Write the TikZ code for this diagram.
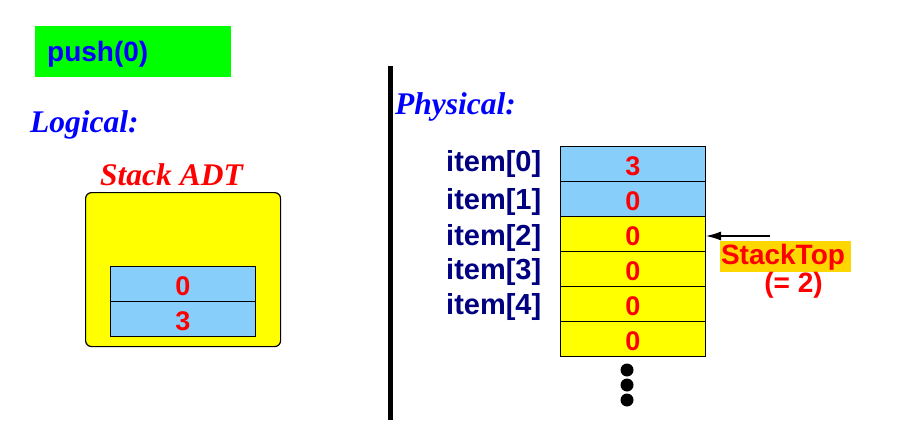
\documentclass[tikz,border=0pt]{standalone}
\usepackage{fontspec}
\setmainfont{Liberation Serif}
\setsansfont{Liberation Sans}
\usetikzlibrary{arrows.meta}
\definecolor{cgreen}{RGB}{0,255,0}
\definecolor{cyellow}{RGB}{255,255,0}
\definecolor{cblue}{RGB}{135,206,250}
\definecolor{cgold}{RGB}{255,215,0}
\definecolor{cred}{RGB}{255,0,0}
\definecolor{ctext}{RGB}{0,0,255}
\definecolor{cnavy}{RGB}{0,0,128}
\tikzset{
  sanslbl/.style={font=\sffamily\bfseries\fontsize{28}{30}\selectfont, inner sep=0pt},
  seriflbl/.style={font=\rmfamily\bfseries\itshape\fontsize{31.5}{33}\selectfont, inner sep=0pt},
  cell/.style={draw=black, line width=1pt, minimum width=145pt, minimum height=35pt, inner sep=0pt,
    text=cred, text height=24pt, font=\sffamily\bfseries\fontsize{27}{29}\selectfont},
  bluecell/.style={cell, fill=cblue},
  yelcell/.style={cell, fill=cyellow},
  itemlbl/.style={sanslbl, font=\sffamily\bfseries\fontsize{29}{31}\selectfont, text=cnavy, anchor=west},
}
\begin{document}
\begin{tikzpicture}[x=1pt,y=-1pt]
\useasboundingbox (0,0) rectangle (903,436);
% command box
\node[fill=cgreen, minimum width=196pt, minimum height=51pt, inner sep=0pt, anchor=north west] (cmdbox) at (35,26) {};
\node[sanslbl, text=ctext, anchor=west] (cmd) at (47,54) {push(0)};
% logical side
\node[seriflbl, text=ctext, anchor=base west] (logical) at (30,132) {Logical:};
\node[seriflbl, text=cred, anchor=base west] (adtlbl) at (100,185) {Stack ADT};
\node[draw=black, line width=1.2pt, fill=cyellow, rounded corners=6pt, minimum width=195pt, minimum height=154pt, inner sep=0pt, anchor=north west] (adt) at (85,192) {};
\node[bluecell, anchor=north west] (s0) at (110,266) {0};
\node[bluecell, anchor=north west] (s1) at (110,301) {3};
% divider
\coordinate (dtop) at (390.5,66);
\coordinate (dbot) at (390.5,420);
\draw[line width=4.5pt] (dtop) -- (dbot);
% physical side
\node[seriflbl, text=ctext, anchor=base west] (physical) at (395,114) {Physical:};
\node[bluecell, anchor=north west] (c0) at (560,146) {3};
\node[bluecell, anchor=north west] (c1) at (560,181) {0};
\node[yelcell, anchor=north west] (c2) at (560,216) {0};
\node[yelcell, anchor=north west] (c3) at (560,251) {0};
\node[yelcell, anchor=north west] (c4) at (560,286) {0};
\node[yelcell, anchor=north west] (c5) at (560,321) {0};
\node[itemlbl] (i0) at (446,164) {item[0]};
\node[itemlbl] (i1) at (446,202) {item[1]};
\node[itemlbl] (i2) at (446,238) {item[2]};
\node[itemlbl] (i3) at (446,272) {item[3]};
\node[itemlbl] (i4) at (446,307) {item[4]};
\fill (627,370) circle (6.5pt);
\fill (627,385) circle (6.5pt);
\fill (627,400) circle (6.5pt);
% stack top pointer
\node[fill=cgold, minimum width=131pt, minimum height=31pt, inner sep=0pt, anchor=north west] (topbox) at (720,241) {};
\node[sanslbl, text=cred] (toplbl) at (783,257.5) {StackTop};
\node[sanslbl, text=cred] (topval) at (793.5,285) {(= 2)};
\coordinate (arrstart) at (770,236);
\draw[line width=1.2pt, -{Latex[length=15pt,width=9pt]}] (arrstart) -- (c2.east |- arrstart);
\end{tikzpicture}
\end{document}
